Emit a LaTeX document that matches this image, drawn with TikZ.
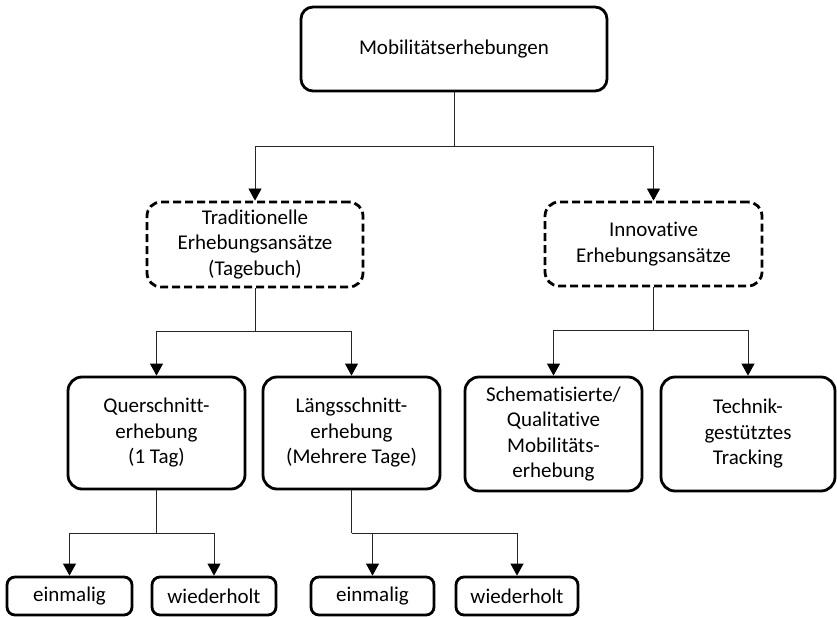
\documentclass[tikz,border=0pt]{standalone}
\usepackage{fontspec}
\setmainfont{Carlito}[Ligatures=NoCommon, RawFeature={-liga;-dlig}]
\usetikzlibrary{arrows.meta}
\tikzset{
  box/.style={draw=black, line width=2.8pt, rounded corners=14pt, align=center,
    inner sep=0pt, font=\fontsize{21}{25.5}\selectfont},
  dbox/.style={box, dash pattern=on 8pt off 4pt},
  link/.style={draw=black!85, line width=0.8pt},
  arr/.style={link, -{Triangle[length=12pt,width=13pt,color=black,fill=black]}},
}
\begin{document}
\begin{tikzpicture}[x=1pt,y=-1pt]
\useasboundingbox (0,0) rectangle (837,617);
\node[box, minimum width=306pt, minimum height=84pt, rounded corners=12pt] (top) at (454,49) {Mobilitätserhebungen};
\node[dbox, minimum width=216pt, minimum height=85pt] (trad) at (255,244.5) {Traditionelle\\Erhebungsansätze\\(Tagebuch)};
\node[dbox, minimum width=217pt, minimum height=84pt] (inno) at (653.5,244) {Innovative\\Erhebungsansätze};
\node[box, minimum width=177pt, minimum height=112pt] (quer) at (156.5,433) {Querschnitt-\\erhebung\\(1 Tag)};
\node[box, minimum width=177pt, minimum height=112pt] (laengs) at (351.5,433) {Längsschnitt-\\erhebung\\(Mehrere Tage)};
\node[box, minimum width=177pt, minimum height=114pt] (schema) at (553.5,434) {Schematisierte/\\Qualitative\\Mobilitäts-\\erhebung};
\node[box, minimum width=174pt, minimum height=114pt] (tech) at (748,434) {Technik-\\gestütztes\\Tracking};
\node[box, minimum width=125pt, minimum height=38pt, rounded corners=8pt] (e1) at (69.5,596) {einmalig};
\node[box, minimum width=124pt, minimum height=38pt, rounded corners=8pt] (w1) at (214,596) {wiederholt};
\node[box, minimum width=123pt, minimum height=38pt, rounded corners=8pt] (e2) at (372.5,596) {einmalig};
\node[box, minimum width=122pt, minimum height=38pt, rounded corners=8pt] (w2) at (517,596) {wiederholt};

\coordinate (j1) at (454,146);
\draw[link] (top.south) -- (j1);
\draw[arr] (j1) -| (trad.north);
\draw[arr] (j1) -| (inno.north);

\coordinate (j2) at (255,331);
\draw[link] (trad.south) -- (j2);
\draw[arr] (j2) -| (quer.north);
\draw[arr] (j2) -| (laengs.north);

\coordinate (j3) at (653.5,330);
\draw[link] (inno.south) -- (j3);
\draw[arr] (j3) -| (schema.north);
\draw[arr] (j3) -| (tech.north);

\coordinate (j4) at (156.5,533);
\draw[link] (quer.south) -- (j4);
\draw[arr] (j4) -| (e1.north);
\draw[arr] (j4) -| (w1.north);

\coordinate (j5) at (351.5,533);
\draw[link] (laengs.south) -- (j5);
\draw[arr] (j5) -| (e2.north);
\draw[arr] (j5) -| (w2.north);
\end{tikzpicture}
\end{document}
